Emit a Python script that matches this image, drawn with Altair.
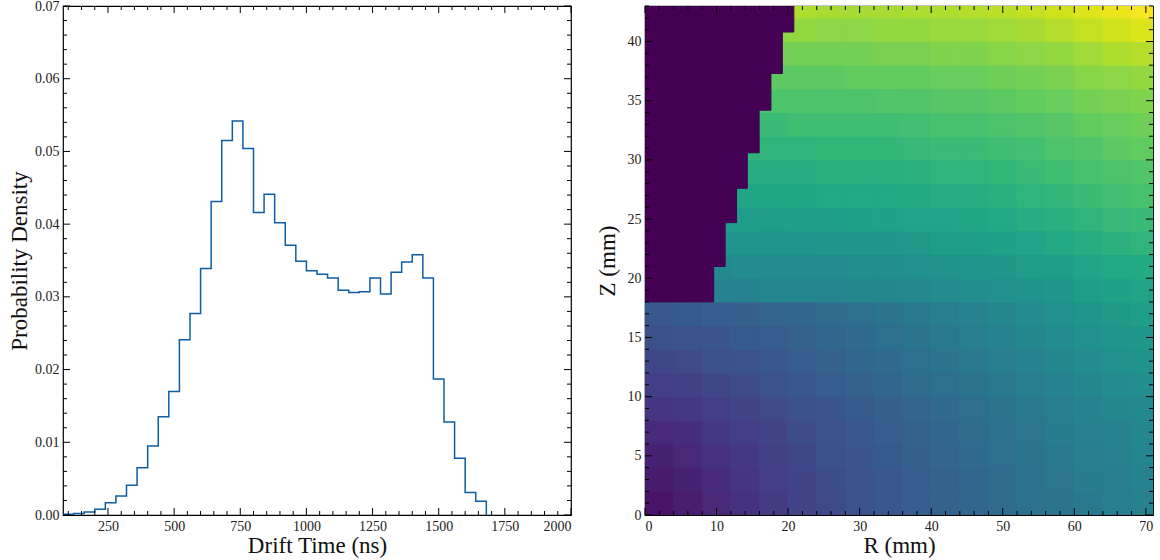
import altair as alt
import pandas as pd

# ---------------- Drift-time histogram (40 ns bins from 80 ns) ----------------
bin_start = 80
bin_width = 40
hist_values = [
    0.0001, 0.0002, 0.0004, 0.0008, 0.0017, 0.0026, 0.0041, 0.0065, 0.0095, 0.0135,
    0.0170, 0.0241, 0.0277, 0.0339, 0.0431, 0.0515, 0.0542, 0.0504, 0.0416, 0.0441,
    0.0402, 0.0371, 0.0349, 0.0336, 0.0331, 0.0326, 0.0309, 0.0306, 0.0307, 0.0326,
    0.0304, 0.0334, 0.0348, 0.0358, 0.0326, 0.0187, 0.0128, 0.0078, 0.0031, 0.0019,
]
hist_x_ticks = [250, 500, 750, 1000, 1250, 1500, 1750, 2000]
hist_y_ticks = [0.00, 0.01, 0.02, 0.03, 0.04, 0.05, 0.06, 0.07]

# ---------------- Drift-time map over (R, Z) ----------------
r_edges = [0, 4, 8, 12, 16, 20, 24, 28, 32, 36, 40, 44, 48, 52, 56, 60, 64, 68, 71]
z_edges = [0, 2, 4, 6, 8, 10, 12, 14, 16, 18, 20, 22, 24, 26, 28, 30, 32, 34, 36, 38, 40, 42, 43]
# normalised colour value per cell, one row per Z band (bottom to top)
map_rows = [
    [0.05, 0.08, 0.11, 0.14, 0.17, 0.20, 0.22, 0.25, 0.27, 0.29, 0.31, 0.33, 0.35, 0.37, 0.38, 0.40, 0.42, 0.43],
    [0.07, 0.09, 0.12, 0.15, 0.18, 0.20, 0.23, 0.25, 0.27, 0.29, 0.31, 0.33, 0.35, 0.37, 0.39, 0.41, 0.42, 0.44],
    [0.09, 0.11, 0.14, 0.16, 0.19, 0.21, 0.24, 0.26, 0.28, 0.30, 0.32, 0.34, 0.36, 0.38, 0.40, 0.42, 0.43, 0.45],
    [0.12, 0.13, 0.16, 0.18, 0.20, 0.23, 0.25, 0.27, 0.29, 0.31, 0.33, 0.35, 0.37, 0.39, 0.41, 0.43, 0.44, 0.46],
    [0.15, 0.16, 0.18, 0.20, 0.22, 0.24, 0.26, 0.28, 0.30, 0.32, 0.34, 0.36, 0.38, 0.40, 0.42, 0.44, 0.46, 0.47],
    [0.18, 0.19, 0.21, 0.23, 0.25, 0.27, 0.29, 0.31, 0.33, 0.35, 0.36, 0.38, 0.40, 0.42, 0.44, 0.46, 0.48, 0.49],
    [0.21, 0.22, 0.24, 0.25, 0.27, 0.29, 0.31, 0.33, 0.34, 0.36, 0.38, 0.40, 0.42, 0.44, 0.46, 0.48, 0.50, 0.51],
    [0.24, 0.25, 0.26, 0.28, 0.29, 0.31, 0.33, 0.34, 0.36, 0.38, 0.40, 0.42, 0.44, 0.46, 0.48, 0.50, 0.52, 0.53],
    [0.27, 0.28, 0.29, 0.30, 0.32, 0.33, 0.35, 0.36, 0.38, 0.40, 0.42, 0.44, 0.46, 0.48, 0.50, 0.52, 0.54, 0.56],
    [0.44, 0.44, 0.44, 0.44, 0.45, 0.45, 0.45, 0.46, 0.46, 0.47, 0.48, 0.49, 0.50, 0.51, 0.53, 0.55, 0.57, 0.58],
    [0.47, 0.47, 0.47, 0.48, 0.48, 0.48, 0.48, 0.49, 0.49, 0.50, 0.51, 0.52, 0.53, 0.55, 0.56, 0.58, 0.60, 0.61],
    [0.51, 0.51, 0.51, 0.52, 0.52, 0.52, 0.53, 0.53, 0.53, 0.54, 0.55, 0.56, 0.57, 0.58, 0.60, 0.62, 0.64, 0.65],
    [0.55, 0.55, 0.55, 0.55, 0.56, 0.56, 0.56, 0.57, 0.57, 0.58, 0.58, 0.59, 0.60, 0.62, 0.63, 0.65, 0.67, 0.68],
    [0.58, 0.58, 0.58, 0.59, 0.59, 0.59, 0.60, 0.60, 0.60, 0.61, 0.62, 0.62, 0.63, 0.65, 0.66, 0.68, 0.70, 0.71],
    [0.62, 0.62, 0.62, 0.62, 0.62, 0.62, 0.63, 0.63, 0.63, 0.64, 0.65, 0.65, 0.66, 0.68, 0.69, 0.71, 0.72, 0.73],
    [0.65, 0.65, 0.65, 0.65, 0.65, 0.65, 0.66, 0.66, 0.66, 0.67, 0.68, 0.68, 0.69, 0.70, 0.72, 0.73, 0.75, 0.76],
    [0.68, 0.68, 0.68, 0.68, 0.68, 0.69, 0.69, 0.69, 0.69, 0.70, 0.71, 0.71, 0.72, 0.73, 0.74, 0.76, 0.77, 0.78],
    [0.72, 0.72, 0.72, 0.72, 0.72, 0.72, 0.72, 0.72, 0.73, 0.73, 0.74, 0.74, 0.75, 0.76, 0.77, 0.79, 0.80, 0.81],
    [0.75, 0.75, 0.75, 0.75, 0.75, 0.75, 0.75, 0.76, 0.76, 0.76, 0.77, 0.77, 0.78, 0.79, 0.80, 0.82, 0.83, 0.84],
    [0.79, 0.79, 0.79, 0.79, 0.79, 0.79, 0.79, 0.79, 0.80, 0.80, 0.81, 0.81, 0.82, 0.83, 0.84, 0.86, 0.88, 0.89],
    [0.83, 0.83, 0.83, 0.83, 0.83, 0.84, 0.83, 0.83, 0.84, 0.84, 0.85, 0.85, 0.86, 0.87, 0.89, 0.91, 0.93, 0.95],
    [0.87, 0.87, 0.87, 0.87, 0.87, 0.88, 0.87, 0.87, 0.87, 0.88, 0.88, 0.89, 0.90, 0.91, 0.93, 0.95, 0.97, 0.99],
]
# excluded (no-drift) corner: stepped boundary in Z with its outer R
mask_z = [18.0, 21.0, 24.7, 27.6, 30.6, 34.2, 37.3, 40.8, 43.0]
mask_r = [9.6, 11.2, 12.8, 14.3, 15.95, 17.6, 19.2, 20.8]
map_x_ticks = [0, 10, 20, 30, 40, 50, 60, 70]
map_y_ticks = [0, 5, 10, 15, 20, 25, 30, 35, 40]

W, H = 508, 509
SERIF = "Liberation Serif"
MAJOR, MINOR = 7, 4


def inward_ticks(xscale, yscale, xaxis, yaxis, x_major, x_minor, y_major, y_minor):
    """Ticks on all four sides, pointing into the plot."""
    layers = []
    for vals, size in ((x_major, MAJOR), (x_minor, MINOR)):
        base = alt.Chart(pd.DataFrame({"t": vals})).mark_rule(color="black", strokeWidth=1)
        xenc = alt.X("t:Q", scale=xscale, axis=xaxis)
        layers.append(base.encode(x=xenc, y=alt.value(H), y2=alt.value(H - size)))
        layers.append(base.encode(x=xenc, y=alt.value(0), y2=alt.value(size)))
    for vals, size in ((y_major, MAJOR), (y_minor, MINOR)):
        base = alt.Chart(pd.DataFrame({"t": vals})).mark_rule(color="black", strokeWidth=1)
        yenc = alt.Y("t:Q", scale=yscale, axis=yaxis)
        layers.append(base.encode(y=yenc, x=alt.value(0), x2=alt.value(size)))
        layers.append(base.encode(y=yenc, x=alt.value(W), x2=alt.value(W - size)))
    return layers


# ----- left panel -----
edges = [bin_start + bin_width * i for i in range(len(hist_values) + 1)]
step_x = [edges[0]] + edges[:-1] + [edges[-1], edges[-1]]
step_y = [0.0] + hist_values + [hist_values[-1], 0.0]
hist_df = pd.DataFrame({"t": step_x, "p": step_y, "o": list(range(len(step_x)))})

hx = alt.Scale(domain=[80, 2000], nice=False, zero=False)
hy = alt.Scale(domain=[0, 0.07], nice=False)
hx_axis = alt.Axis(values=hist_x_ticks, format="d", title="Drift Time (ns)")
hy_axis = alt.Axis(values=hist_y_ticks, format=".2f", title="Probability Density",
                   titlePadding=3)

hist_line = alt.Chart(hist_df).mark_line(
    interpolate="step-after", color="#0C5DA5", strokeWidth=1.5, clip=True
).encode(
    x=alt.X("t:Q", scale=hx, axis=hx_axis),
    y=alt.Y("p:Q", scale=hy, axis=hy_axis),
    order="o:Q",
)

hx_minor = [v for v in range(100, 2001, 50) if v % 250]
hy_minor = [round(0.002 * i, 3) for i in range(36) if i % 5]
left = alt.layer(
    hist_line,
    *inward_ticks(hx, hy, hx_axis, hy_axis, hist_x_ticks, hx_minor, hist_y_ticks, hy_minor),
).properties(width=W, height=H)

# ----- right panel -----
cells = []
for j, row in enumerate(map_rows):
    for i, v in enumerate(row):
        cells.append({"r0": r_edges[i], "r1": r_edges[i + 1],
                      "z0": z_edges[j], "z1": z_edges[j + 1], "v": v})
cells_df = pd.DataFrame(cells)
mask_df = pd.DataFrame({"r0": [0] * len(mask_r), "r1": mask_r,
                        "z0": mask_z[:-1], "z1": mask_z[1:]})

mx = alt.Scale(domain=[0, 71], nice=False, zero=False)
my = alt.Scale(domain=[0, 43], nice=False, zero=False)
mx_axis = alt.Axis(values=map_x_ticks, format="d", title="R (mm)")
my_axis = alt.Axis(values=map_y_ticks, format="d", title="Z (mm)", titlePadding=8)
vscale = alt.Scale(scheme="viridis", domain=[0, 1])

heat = alt.Chart(cells_df).mark_rect(strokeWidth=1, clip=True).encode(
    x=alt.X("r0:Q", scale=mx, axis=mx_axis),
    x2="r1:Q",
    y=alt.Y("z0:Q", scale=my, axis=my_axis),
    y2="z1:Q",
    color=alt.Color("v:Q", scale=vscale, legend=None),
    stroke=alt.Stroke("v:Q", scale=vscale, legend=None),
)
mask = alt.Chart(mask_df).mark_rect(color="#440154", stroke="#440154", strokeWidth=1,
                                    clip=True).encode(
    x=alt.X("r0:Q", scale=mx, axis=mx_axis), x2="r1:Q",
    y=alt.Y("z0:Q", scale=my, axis=my_axis), y2="z1:Q",
)

mx_minor = [v for v in range(2, 71, 2) if v % 10]
my_minor = [v for v in range(1, 44) if v % 5]
right = alt.layer(
    heat, mask,
    *inward_ticks(mx, my, mx_axis, my_axis, map_x_ticks, mx_minor, map_y_ticks, my_minor),
).properties(width=W, height=H)

chart = alt.hconcat(left, right, spacing=22).properties(
    padding={"left": 7, "top": -2, "right": 0, "bottom": 0}
).configure_view(
    stroke="black", strokeWidth=1.2
).configure_axis(
    domain=False, ticks=False, grid=False,
    labelFont=SERIF, labelFontSize=14, labelColor="#222", labelPadding=4,
    titleFont=SERIF, titleFontSize=23, titleFontWeight="normal", titleColor="#111",
).configure_axisX(titlePadding=1)

chart.save("out.html", embed_options={"renderer": "svg", "actions": False})
